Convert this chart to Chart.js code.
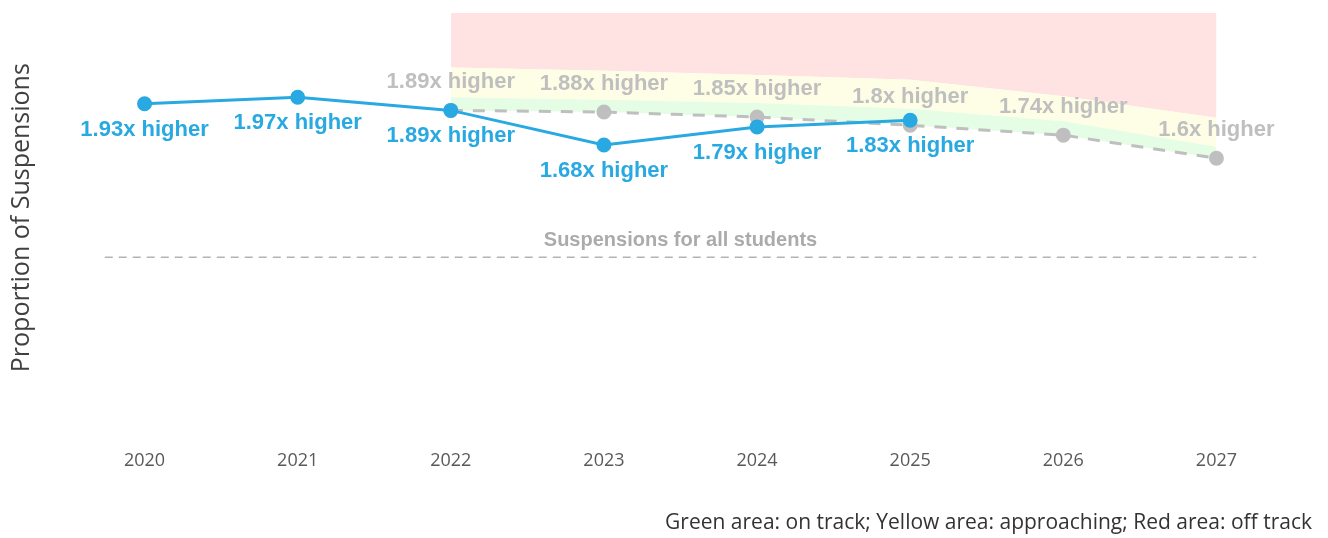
<!DOCTYPE html>
<html>
<head>
<meta charset="utf-8">
<script src="https://cdn.jsdelivr.net/npm/chart.js@4.4.1/dist/chart.umd.min.js"></script>
<style>
  html, body { margin: 0; padding: 0; background: #fff; }
  #wrap { width: 1328px; height: 538px; }
</style>
</head>
<body>
<div id="wrap"><canvas id="chart" width="1328" height="538"></canvas></div>
<script>
// Data

const years = ['2020', '2021', '2022', '2023', '2024', '2025', '2026', '2027'];
const actual = [1.93, 1.97, 1.89, 1.68, 1.79, 1.83, null, null];
const target = [null, null, 1.89, 1.88, 1.85, 1.80, 1.74, 1.60];
// upper edges of the green and yellow areas (estimated)
const greenTop = [null, null, 1.97, 1.955, 1.935, 1.90, 1.825, 1.67];
const yellowTop = [null, null, 2.15, 2.13, 2.105, 2.075, 1.975, 1.845];
// "all students" baseline, drawn on a hidden year axis
const baseValue = 1;
const baseSpan = [2019.74, 2027.26];
const baseLabel = 'Suspensions for all students';
const yTitle = 'Proportion of Suspensions';
const footNote = 'Green area: on track; Yellow area: approaching; Red area: off track';

const blue = '#29a9e1';
const grey = '#bfbfbf';

// Labels like "1.93x higher" under / over each point

const valueLabels = {
    id: 'valueLabels',
    afterDatasetsDraw(chart) {
        const ctx = chart.ctx;
        ctx.save();
        ctx.font = 'bold 22px "Liberation Sans", Arial, sans-serif';
        ctx.textAlign = 'center';
        ctx.textBaseline = 'middle';

        chart.getDatasetMeta(1).data.forEach((pt, i) => {
            if (target[i] == null) return;
            ctx.fillStyle = grey;
            ctx.fillText(target[i] + 'x higher', pt.x, pt.y - 28);
        });
        chart.getDatasetMeta(0).data.forEach((pt, i) => {
            if (actual[i] == null) return;
            ctx.fillStyle = blue;
            ctx.fillText(actual[i] + 'x higher', pt.x, pt.y + 26);
        });

        // baseline caption
        const base = chart.getDatasetMeta(5).data;
        ctx.font = 'bold 20px "Liberation Sans", Arial, sans-serif';
        ctx.fillStyle = '#ababab';
        ctx.fillText(baseLabel, (base[0].x + base[1].x) / 2, base[0].y - 17);

        // note at the bottom right
        ctx.font = '21px "Open Sans", sans-serif';
        ctx.fillStyle = '#333333';
        ctx.textAlign = 'right';
        ctx.fillText(footNote, chart.width - 16, chart.height - 15);
        ctx.restore();
    }
};

const chart = new Chart(document.getElementById('chart'), {
    type: 'line',
    data: {
        labels: years,
        datasets: [
            {
                label: 'Actual',
                data: actual,
                borderColor: blue,
                backgroundColor: blue,
                borderWidth: 3,
                pointRadius: 6,
                pointHoverRadius: 6,
                tension: 0,
                fill: false
            },
            {
                label: 'Target',
                data: target,
                borderColor: grey,
                backgroundColor: grey,
                borderWidth: 3,
                borderDash: [12, 10],
                pointRadius: 6,
                pointHoverRadius: 6,
                tension: 0,
                fill: false
            },
            {
                label: 'On track',
                data: greenTop,
                borderWidth: 0,
                pointRadius: 0,
                backgroundColor: '#e5fde5',
                fill: 1
            },
            {
                label: 'Approaching',
                data: yellowTop,
                borderWidth: 0,
                pointRadius: 0,
                backgroundColor: '#fefee6',
                fill: 2
            },
            {
                label: 'Off track',
                data: yellowTop,
                borderWidth: 0,
                pointRadius: 0,
                backgroundColor: '#ffe3e3',
                fill: 'end'
            },
            {
                label: 'All students',
                data: baseSpan.map(x => ({ x: x, y: baseValue })),
                xAxisID: 'xBase',
                borderColor: '#b3b3b3',
                borderWidth: 1.5,
                borderDash: [8, 6],
                pointRadius: 0,
                fill: false
            }
        ]
    },
    options: {
        responsive: false,
        animation: false,
        events: [],
        layout: {
            padding: { top: 13, left: 7, right: 35, bottom: 46 }
        },
        plugins: {
            legend: { display: false },
            tooltip: { enabled: false }
        },
        scales: {
            x: {
                type: 'category',
                offset: true,
                grid: { display: false },
                border: { display: false },
                ticks: {
                    padding: 20,
                    color: '#595959',
                    font: { family: 'Open Sans', size: 18 }
                }
            },
            xBase: {
                type: 'linear',
                display: false,
                min: 2019.5,
                max: 2027.5
            },
            y: {
                min: 0,
                max: 2.48,
                grid: { display: false },
                border: { display: false },
                ticks: { display: false },
                title: {
                    display: true,
                    text: yTitle,
                    color: '#404040',
                    font: { family: 'Open Sans', size: 25 },
                    padding: { top: 0, bottom: 23 }
                }
            }
        }
    },
    plugins: [valueLabels]
});
</script>
</body>
</html>
